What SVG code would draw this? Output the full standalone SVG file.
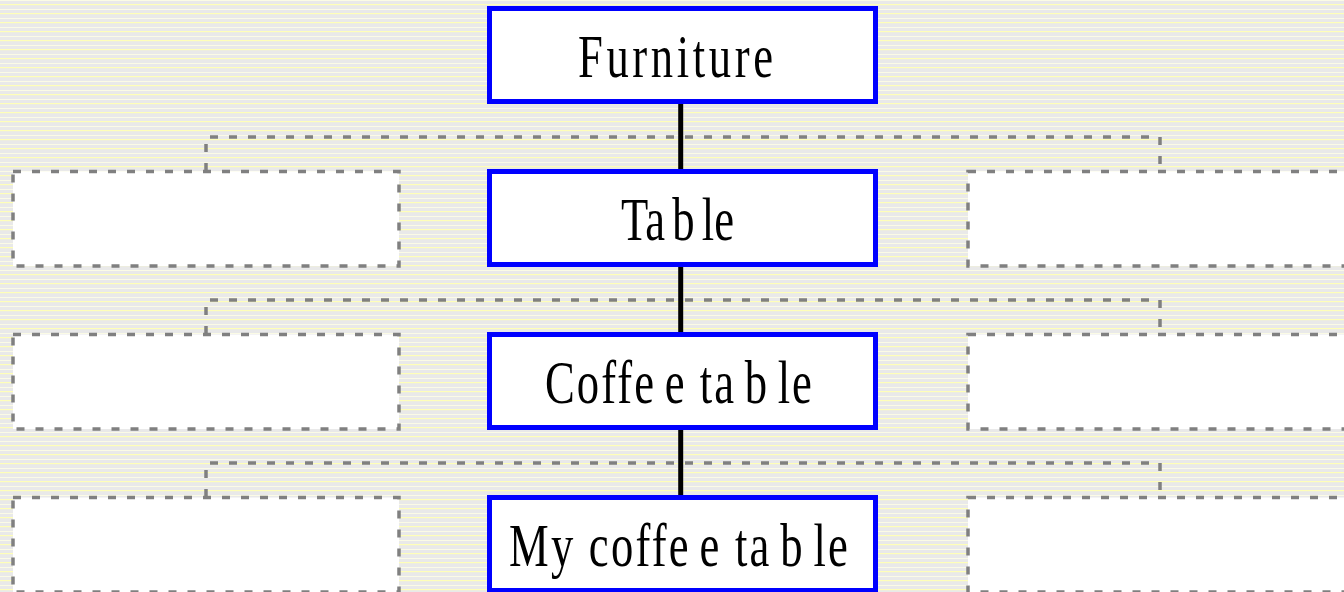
<svg xmlns="http://www.w3.org/2000/svg" width="1344" height="592" viewBox="0 0 1344 592">
  <defs>
    <!-- ruled background: grey paper with fine pale lines -->
    <pattern id="ruled" x="0" y="0" width="16" height="9" patternUnits="userSpaceOnUse">
      <rect width="16" height="9" fill="#e9e9e9"/>
      <rect y="0" width="16" height="1" fill="#fbfbe6"/>
      <rect y="4" width="16" height="1.2" fill="#ffffb8"/>
    </pattern>
  </defs>
  <style>
    .slot { fill: #ffffff; stroke: #808080; stroke-width: 3.5; stroke-dasharray: 8 11; }
    .bracket { fill: none; stroke: #808080; stroke-width: 3.5; stroke-dasharray: 8 11; }
    .node rect { fill: #ffffff; stroke: #0000ff; stroke-width: 5; }
    .node text { font-family: "Liberation Serif", "Times New Roman", serif; font-size: 62px; fill: #000000; }
    .link { stroke: #000000; stroke-width: 5; fill: none; }
  </style>

  <rect width="1344" height="592" fill="url(#ruled)"/>

  <!-- empty dashed slots on each side of the hierarchy -->
  <g id="slots">
    <path class="bracket" d="M206,171 V137 H1160 V171"/>
    <rect class="slot" x="13" y="171.5" width="386" height="94.5"/>
    <rect class="slot" x="968" y="171.5" width="400" height="94.5"/>

    <path class="bracket" d="M206,334 V300 H1160 V334"/>
    <rect class="slot" x="13" y="334.5" width="386" height="94.5"/>
    <rect class="slot" x="968" y="334.5" width="400" height="94.5"/>

    <path class="bracket" d="M206,497 V463 H1160 V497"/>
    <rect class="slot" x="13" y="497.5" width="386" height="94.5"/>
    <rect class="slot" x="968" y="497.5" width="400" height="94.5"/>
  </g>

  <!-- vertical links between levels -->
  <g id="connectors">
    <line class="link" x1="680.7" y1="103" x2="680.7" y2="170"/>
    <line class="link" x1="680.7" y1="266" x2="680.7" y2="333"/>
    <line class="link" x1="680.7" y1="429" x2="680.7" y2="496"/>
  </g>

  <!-- labels are set in a narrowed serif, stretched to the box widths -->
  <g id="furniture" class="node">
    <rect x="489.5" y="8.5" width="386" height="93"/>
    <text transform="scale(0.72,1)" x="802.8" y="77" textLength="270.8" lengthAdjust="spacing">Furniture</text>
  </g>

  <g id="table" class="node">
    <rect x="489.5" y="171.5" width="386" height="93"/>
    <text transform="scale(0.72,1)" x="862.5" y="240" textLength="156.9" lengthAdjust="spacing">Ta<tspan dx="10">b</tspan><tspan dx="10">le</tspan></text>
  </g>

  <g id="coffee-table" class="node">
    <rect x="489.5" y="334.5" width="386" height="93"/>
    <text transform="scale(0.72,1)" x="756.9" y="403" textLength="370.8" lengthAdjust="spacing">Coffe<tspan dx="12">e ta</tspan><tspan dx="12">b</tspan><tspan dx="12">le</tspan></text>
  </g>

  <g id="my-coffee-table" class="node">
    <rect x="489.5" y="497.5" width="386" height="93"/>
    <text transform="scale(0.72,1)" x="706.9" y="566" textLength="470.8" lengthAdjust="spacing">My coffe<tspan dx="12">e ta</tspan><tspan dx="12">b</tspan><tspan dx="12">le</tspan></text>
  </g>
</svg>
